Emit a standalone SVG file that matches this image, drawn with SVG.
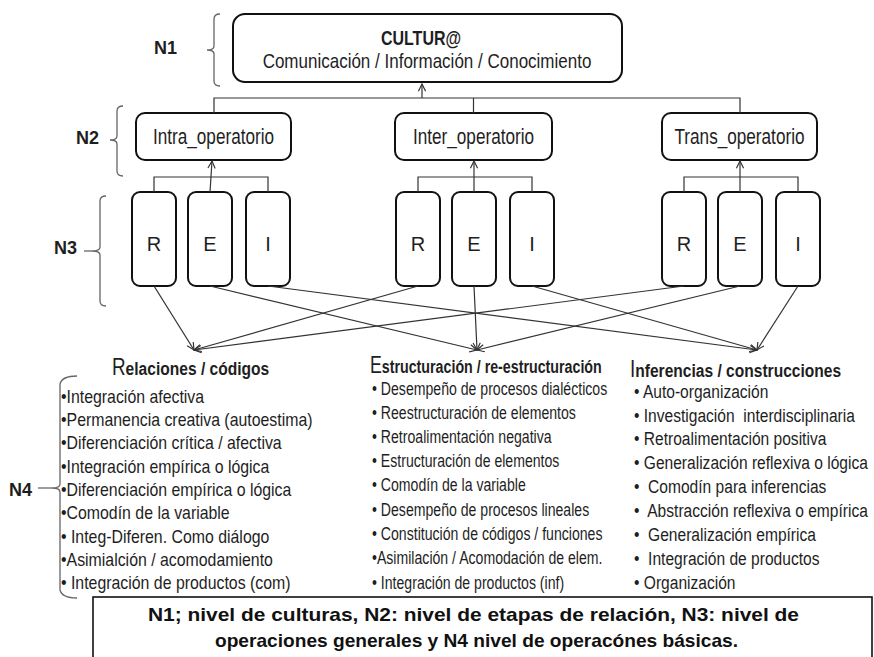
<svg xmlns="http://www.w3.org/2000/svg" width="874" height="657" viewBox="0 0 874 657">
<defs>
<style>
text{font-family:"Liberation Sans",Arial,sans-serif;fill:#1e1e1e}
.lab{font-size:18px;font-weight:bold}
.box{fill:#fff;stroke:#111;stroke-width:2}
.n2t{font-size:22px}
.n3t{font-size:20px}
.it{font-size:19px;white-space:pre}
.it2{font-size:18.5px;white-space:pre}
.hb{font-size:19px;font-weight:bold}
.hb2{font-size:18.5px;font-weight:bold}
.hc{font-size:23px}
.br{fill:none;stroke:#666;stroke-width:1.3}
.cn{fill:none;stroke:#333;stroke-width:1.2}
.bt{font-size:18.5px;font-weight:bold;fill:#111}
</style>
<marker id="arr" viewBox="0 0 10 10" refX="9" refY="5" markerWidth="9" markerHeight="9" markerUnits="userSpaceOnUse" orient="auto">
<path d="M1,1 L9,5 L1,9" fill="none" stroke="#333" stroke-width="1.3"/>
</marker>
</defs>
<rect width="874" height="657" fill="#fff"/>

<g id="levels">
<text class="lab" x="154" y="54">N1</text>
<path class="br" d="M220,14 Q214,14 214,19 L214,46 Q214,50 207,50 Q214,50 214,54 L214,81 Q214,86 220,86"/>
<text class="lab" x="76" y="144">N2</text>
<path class="br" d="M123,106 Q117,106 117,111 L117,136 Q117,140 110,140 Q117,140 117,144 L117,171 Q117,176 123,176"/>
<text class="lab" x="54" y="254">N3</text>
<path class="br" d="M106,196 Q100,196 100,201 L100,247 Q100,251 92,251 Q100,251 100,255 L100,301 Q100,306 106,306"/>
<line class="br" x1="84" y1="251" x2="92" y2="251"/>
<text class="lab" x="9" y="496">N4</text>
<path class="br" d="M77,376 Q62,376 60,384 L60,484 Q60,488 52,488 Q60,488 60,492 L60,590 Q62,598 77,598"/>
<line class="br" x1="38" y1="488" x2="52" y2="488"/>
</g>

<g id="n1">
<rect class="box" x="233" y="14" width="389" height="68" rx="12"/>
<text transform="translate(421,45) scale(0.8,1)" text-anchor="middle" font-size="20" font-weight="bold">CULTUR@</text>
<text transform="translate(427,68) scale(0.81,1)" text-anchor="middle" font-size="21">Comunicación / Información / Conocimiento</text>
</g>

<g id="n2-intra">
<rect class="box" x="136" y="113" width="155" height="47" rx="9"/>
<text class="n2t" transform="translate(213.5,144) scale(0.78,1)" text-anchor="middle">Intra_operatorio</text>
</g>
<g id="n2-inter">
<rect class="box" x="395" y="113" width="157" height="47" rx="9"/>
<text class="n2t" transform="translate(473.5,144) scale(0.78,1)" text-anchor="middle">Inter_operatorio</text>
</g>
<g id="n2-trans">
<rect class="box" x="662" y="113" width="155" height="47" rx="9"/>
<text class="n2t" transform="translate(739.5,144) scale(0.78,1)" text-anchor="middle">Trans_operatorio</text>
</g>

<g id="n3-intra-R"><rect class="box" x="132" y="192" width="44" height="94" rx="8"/><text class="n3t" x="154" y="251" text-anchor="middle">R</text></g>
<g id="n3-intra-E"><rect class="box" x="188" y="192" width="44" height="94" rx="8"/><text class="n3t" x="210" y="251" text-anchor="middle">E</text></g>
<g id="n3-intra-I"><rect class="box" x="246" y="192" width="44" height="94" rx="8"/><text class="n3t" x="268" y="251" text-anchor="middle">I</text></g>
<g id="n3-inter-R"><rect class="box" x="396" y="192" width="44" height="94" rx="8"/><text class="n3t" x="418" y="251" text-anchor="middle">R</text></g>
<g id="n3-inter-E"><rect class="box" x="452" y="192" width="44" height="94" rx="8"/><text class="n3t" x="474" y="251" text-anchor="middle">E</text></g>
<g id="n3-inter-I"><rect class="box" x="510" y="192" width="44" height="94" rx="8"/><text class="n3t" x="532" y="251" text-anchor="middle">I</text></g>
<g id="n3-trans-R"><rect class="box" x="662" y="192" width="44" height="94" rx="8"/><text class="n3t" x="684" y="251" text-anchor="middle">R</text></g>
<g id="n3-trans-E"><rect class="box" x="718" y="192" width="44" height="94" rx="8"/><text class="n3t" x="740" y="251" text-anchor="middle">E</text></g>
<g id="n3-trans-I"><rect class="box" x="776" y="192" width="44" height="94" rx="8"/><text class="n3t" x="798" y="251" text-anchor="middle">I</text></g>

<g id="connectors">
<path class="cn" d="M214,113 V98 H740 V113 M473.5,98 V113"/>
<line class="cn" x1="422" y1="98" x2="422" y2="84" marker-end="url(#arr)"/>
<path class="cn" d="M154,192 V177 H268 V192"/>
<line class="cn" x1="210" y1="192" x2="212" y2="161" marker-end="url(#arr)"/>
<path class="cn" d="M418,192 V177 H532 V192"/>
<line class="cn" x1="474" y1="192" x2="474" y2="161" marker-end="url(#arr)"/>
<path class="cn" d="M684,192 V177 H798 V192"/>
<line class="cn" x1="740" y1="192" x2="740" y2="161" marker-end="url(#arr)"/>
<line class="cn" x1="154" y1="286" x2="194" y2="350" marker-end="url(#arr)"/>
<line class="cn" x1="418" y1="286" x2="194" y2="350" marker-end="url(#arr)"/>
<line class="cn" x1="684" y1="286" x2="194" y2="350" marker-end="url(#arr)"/>
<line class="cn" x1="210" y1="286" x2="477" y2="350" marker-end="url(#arr)"/>
<line class="cn" x1="474" y1="286" x2="477" y2="350" marker-end="url(#arr)"/>
<line class="cn" x1="740" y1="286" x2="477" y2="350" marker-end="url(#arr)"/>
<line class="cn" x1="268" y1="286" x2="757" y2="350" marker-end="url(#arr)"/>
<line class="cn" x1="532" y1="286" x2="757" y2="350" marker-end="url(#arr)"/>
<line class="cn" x1="798" y1="286" x2="757" y2="350" marker-end="url(#arr)"/>
</g>

<g id="n4-relaciones">
<text transform="translate(112,375) scale(0.82,1)"><tspan class="hc">R</tspan><tspan class="hb">elaciones / códigos</tspan></text>
<text class="it" transform="translate(61,403) scale(0.835,1)">•Integración afectiva</text>
<text class="it" transform="translate(61,426) scale(0.835,1)">•Permanencia creativa (autoestima)</text>
<text class="it" transform="translate(61,449) scale(0.835,1)">•Diferenciación crítica / afectiva</text>
<text class="it" transform="translate(61,473) scale(0.835,1)">•Integración empírica o lógica</text>
<text class="it" transform="translate(61,496) scale(0.835,1)">•Diferenciación empírica o lógica</text>
<text class="it" transform="translate(61,519) scale(0.835,1)">•Comodín de la variable</text>
<text class="it" transform="translate(61,543) scale(0.835,1)">• Integ-Diferen. Como diálogo</text>
<text class="it" transform="translate(61,566) scale(0.835,1)">•Asimialción / acomodamiento</text>
<text class="it" transform="translate(61,589) scale(0.835,1)">• Integración de productos (com)</text>
</g>

<g id="n4-estructuracion">
<text transform="translate(370,373) scale(0.77,1)"><tspan class="hc">E</tspan><tspan class="hb2">structuración / re-estructuración</tspan></text>
<text class="it2" transform="translate(372,395) scale(0.762,1)">• Desempeño de procesos dialécticos</text>
<text class="it2" transform="translate(372,419) scale(0.762,1)">• Reestructuración de elementos</text>
<text class="it2" transform="translate(372,443) scale(0.762,1)">• Retroalimentación negativa</text>
<text class="it2" transform="translate(372,467) scale(0.762,1)">• Estructuración de elementos</text>
<text class="it2" transform="translate(372,491) scale(0.762,1)">• Comodín de la variable</text>
<text class="it2" transform="translate(372,516) scale(0.762,1)">• Desempeño de procesos lineales</text>
<text class="it2" transform="translate(372,540) scale(0.762,1)">• Constitución de códigos / funciones</text>
<text class="it2" transform="translate(372,564) scale(0.762,1)">•Asimilación / Acomodación de elem.</text>
<text class="it2" transform="translate(372,589) scale(0.762,1)">• Integración de productos (inf)</text>
</g>

<g id="n4-inferencias">
<text transform="translate(630,377) scale(0.82,1)"><tspan class="hc">I</tspan><tspan class="hb">nferencias / construcciones</tspan></text>
<text class="it" transform="translate(634,398) scale(0.82,1)">• Auto-organización</text>
<text class="it" transform="translate(634,422) scale(0.82,1)">• Investigación  interdisciplinaria</text>
<text class="it" transform="translate(634,445) scale(0.82,1)">• Retroalimentación positiva</text>
<text class="it" transform="translate(634,469) scale(0.82,1)">• Generalización reflexiva o lógica</text>
<text class="it" transform="translate(634,493) scale(0.82,1)">•  Comodín para inferencias</text>
<text class="it" transform="translate(634,517) scale(0.82,1)">•  Abstracción reflexiva o empírica</text>
<text class="it" transform="translate(634,541) scale(0.82,1)">•  Generalización empírica</text>
<text class="it" transform="translate(634,565) scale(0.82,1)">•  Integración de productos</text>
<text class="it" transform="translate(634,589) scale(0.82,1)">• Organización</text>
</g>

<g id="legend">
<rect x="93" y="597" width="779" height="80" fill="#fff" stroke="#111" stroke-width="1.6"/>
<text class="bt" x="148" y="621" textLength="651" lengthAdjust="spacingAndGlyphs">N1; nivel de culturas, N2: nivel de etapas de relación, N3: nivel de</text>
<text class="bt" x="215" y="647" textLength="523" lengthAdjust="spacingAndGlyphs">operaciones generales y N4 nivel de operacónes básicas.</text>
</g>
</svg>
